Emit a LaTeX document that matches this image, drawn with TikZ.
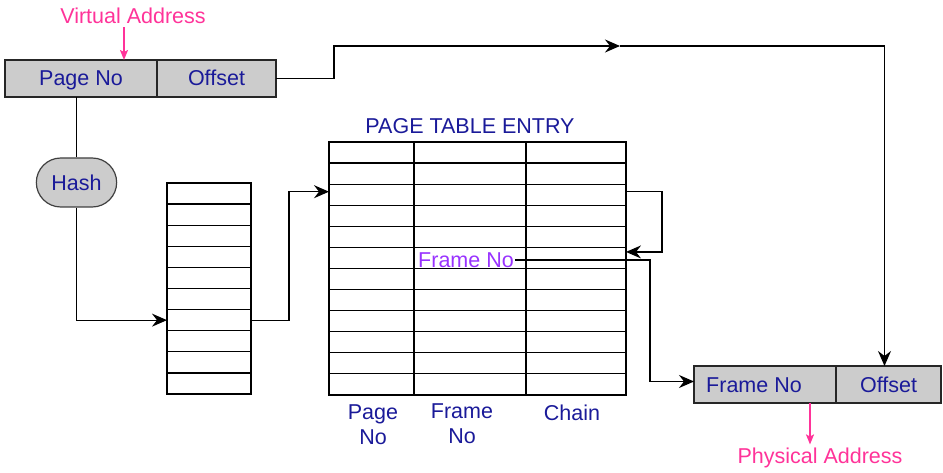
\documentclass[tikz,border=0pt]{standalone}
\usepackage{fontspec}
\setmainfont{Liberation Sans}
\usetikzlibrary{arrows.meta, positioning, calc, shapes.misc}
\definecolor{cNavy}{RGB}{26,26,153}
\definecolor{cPink}{RGB}{255,51,153}
\definecolor{cPurple}{RGB}{153,51,255}
\definecolor{cGray}{RGB}{204,204,204}
\tikzset{
	field/.style   ={rectangle, draw=black!85, line width=1.4pt, fill=cGray, minimum height=37pt, text height=16pt, text depth=1pt, inner sep=0pt, outer sep=0pt, text=cNavy},
	hashbox/.style ={rounded rectangle, draw=black!75, line width=1.2pt, fill=cGray, minimum width=87pt, minimum height=49pt, text=cNavy},
	cell/.style    ={rectangle, draw=black, line width=1.2pt, minimum height=21.1pt, inner sep=0pt, outer sep=0pt},
	caption/.style ={text=cNavy, align=center},
	link/.style    ={-{Stealth[length=15pt, width=13pt, inset=5pt]}, line width=1.2pt},
	% address labels
	addrtag/.style ={text=cPink},
	tagarrow/.style={-{Stealth[length=10pt, width=8pt, inset=2pt]}, line width=1.6pt, cPink},
}
\begin{document}
\begin{tikzpicture}[x=1pt, y=-1pt, font=\fontsize{21.5}{25}\selectfont]
	\useasboundingbox (0,0) rectangle (943,473);
	\node[field, minimum width=152pt] (vpage) at (81,78.5) {Page No};
	\node[field, minimum width=119pt, right=0pt of vpage] (voff) {Offset};
	\node[addrtag] (vaddr) at (133,16) {Virtual Address};
	\draw[tagarrow] ([xshift=-9pt]vaddr.south) -- ([xshift=-9pt]vaddr.south |- vpage.north);
	
	\node[hashbox] (hash) at (76.5,182.5) {Hash};
	\foreach \i in {1,...,10}
	\node[cell, minimum width=84pt] (h\i) at (209,{183+21.1*(\i-0.5)}) {};
	\draw (hash.north) -- (hash.north |- vpage.south);
	\draw[link] (hash.south) |- (h7.west);
	
	\node[caption] (ptitle) at (470,126) {PAGE TABLE ENTRY};
	\foreach \i in {1,...,12}{
		\node[cell, minimum width=85pt] (pp\i) at (371.5,{142+21.08*(\i-0.5)}) {};
		\node[cell, minimum width=112pt] (pf\i) at (470,{142+21.08*(\i-0.5)}) {};
		\node[cell, minimum width=100pt] (pc\i) at (576,{142+21.08*(\i-0.5)}) {};
	}
	\node[caption] (lpage) at (373,425) {Page\\No};
	\node[caption] (lframe) at (462,424) {Frame\\No};
	\node[caption] (lchain) at (572,413) {Chain};
	\node[text=cPurple, inner sep=1pt] (fno) at (466,260) {Frame No};
	\draw[link] (h7.east) -- ++(38,0) |- ([yshift=3pt]pp3.west);
	\draw[link] ([yshift=3pt]pc3.east) -- ++(36,0) |- ([yshift=6pt]pc6.east);
	
	\node[field, minimum width=142pt] (pfr) at (765,384.5) {\hspace*{-22pt}Frame No};
	\node[field, minimum width=105pt, right=0pt of pfr] (poff) {Offset};
	\node[addrtag] (paddr) at (820,458) {Physical Address};
	\draw[tagarrow] ([xshift=-10pt]paddr.north |- pfr.south) -- ([xshift=-10pt]paddr.north);
	\draw[link] (fno.east) -- ++(135,0) |- ([yshift=3pt]pfr.west);
	
	\coordinate (mid) at (620,46);
	\draw[link] (voff.east) -- ++(58,0) |- (mid);
	\draw[link] (mid) -| ([xshift=-4pt]poff.north);
\end{tikzpicture}
\end{document}
